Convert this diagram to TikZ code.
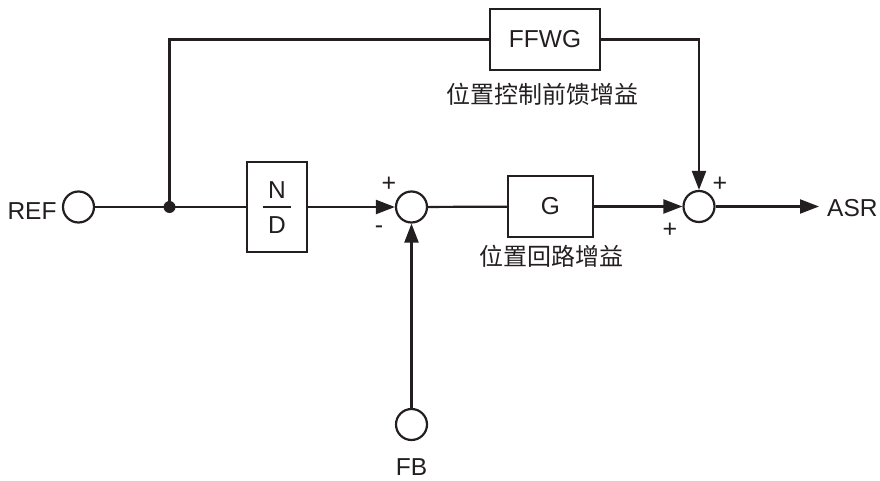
\documentclass[tikz,border=0pt]{standalone}
\usepackage{fontspec}
\setmainfont{Liberation Sans}
\newfontfamily\cjk{Noto Sans CJK SC}
\usetikzlibrary{arrows.meta}
\definecolor{ink}{RGB}{35,31,32}
\begin{document}
\begin{tikzpicture}[x=1pt,y=-1pt,
  wire/.style={line width=2.2pt, draw=ink},
  arr/.style={wire,-{Triangle[length=19pt,width=14pt]}},
  port/.style={circle, wire, minimum size=31pt, inner sep=0pt},
  blk/.style={draw, wire, inner sep=0pt, fill=white},
  txt/.style={font=\fontsize{24.5}{26}\selectfont, inner sep=0pt, text=ink},
  cjklab/.style={font=\cjk\fontsize{24}{26}\selectfont, inner sep=0pt, text=ink},
  sgn/.style={font=\fontsize{25}{27}\selectfont, inner sep=0pt, text=ink}]
\useasboundingbox (0,0) rectangle (880,481);
% nodes
\node[port] (ref) at (78.5,207) {};
\node[txt] (reft) at (32,211) {REF};
\coordinate (j) at (169.5,207);
\node[blk, minimum width=60pt, minimum height=90pt] (nd) at (277,207) {};
\node[txt] (ndn) at (277,190) {N};
\node[txt] (ndd) at (277,225) {D};
\coordinate (fl) at (263,207);
\coordinate (fr) at (291,207);
\node[port] (s1) at (411.5,207) {};
\node[blk, minimum width=85pt, minimum height=61pt, txt] (g) at (550.5,206.5) {G};
\node[port] (s2) at (699,206.5) {};
\node[txt, anchor=west] (asr) at (827,208) {ASR};
\coordinate (asre) at (819,206.5);
\node[blk, minimum width=110pt, minimum height=61pt, txt] (ff) at (545,39.5) {FFWG};
\node[port] (fb) at (411.5,424.5) {};
\node[txt] (fbt) at (411.5,467) {FB};
\node[cjklab] (l1) at (542,94) {位置控制前馈增益};
\node[cjklab] (l2) at (551,256) {位置回路增益};
\node[sgn] (p1) at (389,184) {+};
\node[sgn] (m1) at (379,230) {-};
\node[sgn] (p2) at (720,184) {+};
\node[sgn] (p3) at (670,230) {+};
% connectors
\draw[wire] (ref) -- (nd);
\fill[ink] (j) circle (6pt);
\draw[wire] (fl) -- (fr);
\draw[wire] (j) |- (ff);
\draw[arr] (ff) -| (s2);
\draw[arr] (nd) -- (s1);
\draw[arr] (fb) -- (s1);
\draw[wire] (s1) -- (g);
\draw[arr] (g) -- (s2);
\draw[arr] (s2) -- (asre);
\end{tikzpicture}
\end{document}
